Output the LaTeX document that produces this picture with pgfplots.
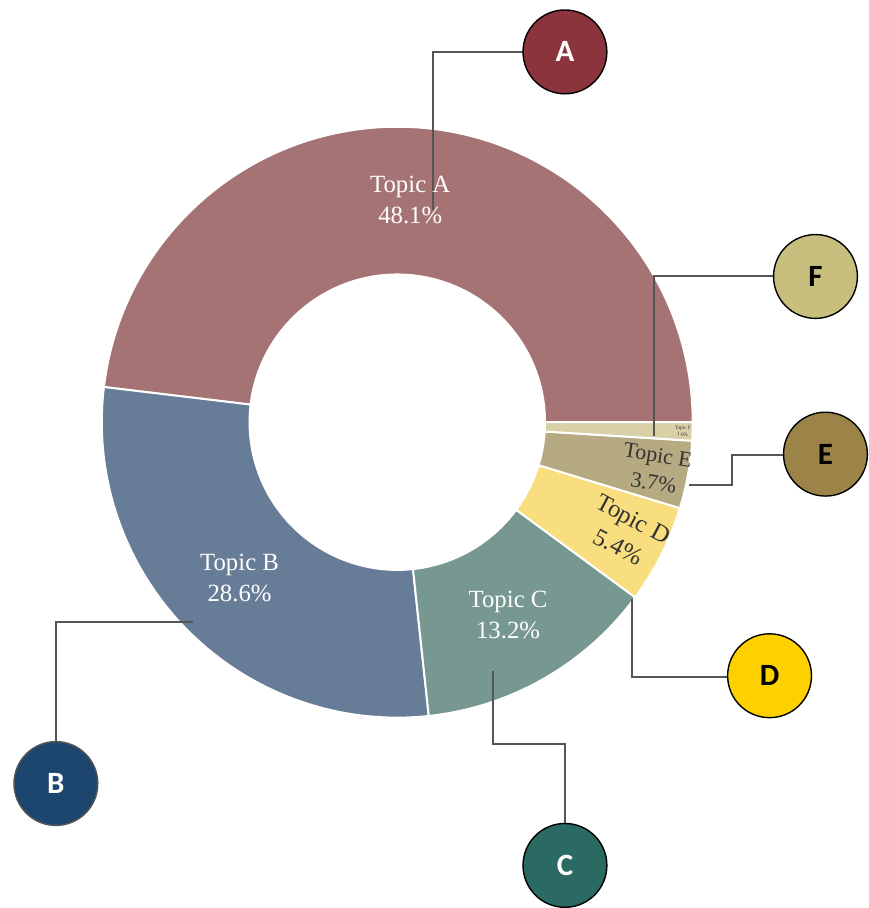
\documentclass[border=0pt]{standalone}
\usepackage{fontspec}
\setmainfont{Liberation Serif}
\newfontfamily\carlito{Carlito}
\usepackage{pgfplots}
\usepackage{pgfplotstable}
\pgfplotsset{compat=1.18}

\definecolor{sA}{HTML}{A67374}
\definecolor{sB}{HTML}{677C96}
\definecolor{sC}{HTML}{769890}
\definecolor{sD}{HTML}{F8DE7E}
\definecolor{sE}{HTML}{B6AA82}
\definecolor{sF}{HTML}{D9D0A7}
\definecolor{cA}{HTML}{8B343D}
\definecolor{cB}{HTML}{1C466E}
\definecolor{cC}{HTML}{2B6A62}
\definecolor{cD}{HTML}{FFD000}
\definecolor{cE}{HTML}{9C8449}
\definecolor{cF}{HTML}{C8BE7E}
\definecolor{lead}{HTML}{555555}
\definecolor{dtxt}{HTML}{333333}

\pgfplotstableread{
topic pct
A 48.1
B 28.6
C 13.2
D 5.4
E 3.7
F 1.0
}\shares

\pgfplotstablegetelem{0}{pct}\of\shares \let\pA\pgfplotsretval
\pgfplotstablegetelem{1}{pct}\of\shares \let\pB\pgfplotsretval
\pgfplotstablegetelem{2}{pct}\of\shares \let\pC\pgfplotsretval
\pgfplotstablegetelem{3}{pct}\of\shares \let\pD\pgfplotsretval
\pgfplotstablegetelem{4}{pct}\of\shares \let\pE\pgfplotsretval
\pgfplotstablegetelem{5}{pct}\of\shares \let\pF\pgfplotsretval
\pgfmathsetmacro\aA{0}
\pgfmathsetmacro\aB{\aA+3.6*\pA}
\pgfmathsetmacro\aC{\aB+3.6*\pB}
\pgfmathsetmacro\aD{\aC+3.6*\pC}
\pgfmathsetmacro\aE{\aD+3.6*\pD}
\pgfmathsetmacro\aF{\aE+3.6*\pE}
\pgfmathsetmacro\aG{\aF+3.6*\pF}

% center (398,485) in axis units (1 unit = 0.5pt), outer r=296, inner r=148
\newcommand\slice[3]{%
  \fill[#3, draw=white, line width=1pt]
    ({398+296*cos(#1)},{485+296*sin(#1)})
    arc[start angle=#1, end angle=#2, radius=148pt]
    -- ({398+148*cos(#2)},{485+148*sin(#2)})
    arc[start angle=#2, end angle=#1, radius=74pt] -- cycle;}

\newcommand\badge[4]{% x y fill letter
  \node[circle, fill=#3, draw=black, line width=0.7pt, minimum size=42pt, inner sep=0pt,
        font=\carlito\bfseries\fontsize{15.5}{15.5}\selectfont] at (#1,#2) {#4};}

\begin{document}
\begin{tikzpicture}
\begin{axis}[
  width=433.5pt, height=454pt, scale only axis,
  xmin=0, xmax=867, ymin=0, ymax=908,
  hide axis, clip=false]
\path (0,0) rectangle (867,908);
\slice{\aA}{\aB}{sA}
\slice{\aB}{\aC}{sB}
\slice{\aC}{\aD}{sC}
\slice{\aD}{\aE}{sD}
\slice{\aE}{\aF}{sE}
\slice{\aF}{\aG}{sF}

% leader lines
\draw[lead, line width=1pt] (434,698) -- (434,856) -- (524,856);
\draw[lead, line width=1pt] (655,471) -- (655,631) -- (775,631);
\draw[lead, line width=1pt] (690,422) -- (733,422) -- (733,452) -- (785,452);
\draw[lead, line width=1pt] (633,308) -- (633,230) -- (729,230);
\draw[lead, line width=1pt] (494,236) -- (494,163) -- (566,163) -- (566,83);
\draw[lead, line width=1pt] (193,285) -- (56,285) -- (56,165);

% slice labels
\node[white, align=center, font=\fontsize{12.4}{15.5}\selectfont] at (411,708) {Topic A\\48.1\%};
\node[white, align=center, font=\fontsize{12.4}{15.5}\selectfont] at (240,329) {Topic B\\28.6\%};
\node[white, align=center, font=\fontsize{12.4}{15.5}\selectfont] at (509,292) {Topic C\\13.2\%};
\node[dtxt, align=center, rotate=-28, inner sep=0pt, font=\fontsize{12.4}{16}\selectfont] at (627,374) {Topic D\\5.4\%};
\node[dtxt, align=center, rotate=-9, inner sep=0pt, font=\fontsize{11}{14}\selectfont] at (657,438) {Topic E\\3.7\%};
\node[dtxt, align=center, rotate=-2, inner sep=0pt, font=\fontsize{2.6}{3.2}\selectfont] at (684,476) {Topic F\\1.0\%};

% badges
\badge{566}{856}{cA}{\textcolor{white}{A}}
\node[circle, fill=cB, draw=lead, line width=0.7pt, minimum size=42pt, inner sep=0pt,
      font=\carlito\bfseries\fontsize{15.5}{15.5}\selectfont, text=white] at (56,123) {B};
\badge{566}{41}{cC}{\textcolor{white}{C}}
\badge{771}{231}{cD}{\textcolor{black}{D}}
\badge{827}{453}{cE}{\textcolor{black}{E}}
\badge{817}{631}{cF}{\textcolor{black}{F}}
\end{axis}
\end{tikzpicture}
\end{document}
